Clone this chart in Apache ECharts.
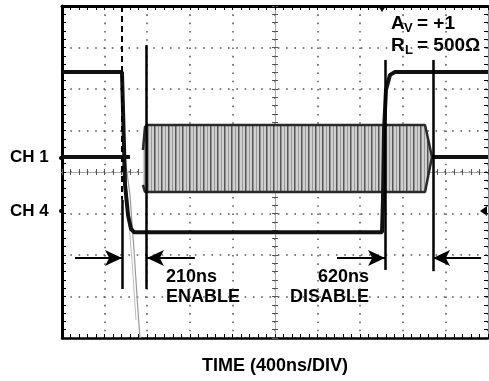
<!DOCTYPE html>
<html>
<head>
<meta charset="utf-8">
<script src="https://cdn.jsdelivr.net/npm/echarts@6/dist/echarts.min.js"></script>
<style>
  html, body { margin: 0; padding: 0; background: #fff; }
  #scope { width: 489px; height: 381px; }
</style>
</head>
<body>
<div id="scope"></div>
<script>
// time: ns from the centre of the screen, level: divisions
const enableTime = [-2000, -1437, -1427, -1408, -1380, -1352, -1324, 1005, 1014, 1024, 1042, 1080, 1127, 2000]
const enableLevel = [2.41, 2.41, 1.49, -0.31, -1.04, -1.37, -1.45, -1.45, -0.67, 1.01, 1.98, 2.34, 2.41, 2.41]

const outBeforeTime = [-2000, -1362]
const outBeforeLevel = [0.36, 0.36]
const outAfterTime = [1474, 2000]
const outAfterLevel = [0.36, 0.36]

const glitchTime = [-1408, -1362, -1324, -1287, -1268]
const glitchLevel = [0.34, -0.55, -1.88, -3.33, -4]
const glitch2Time = [-1437, -1390, -1343, -1305]
const glitch2Level = [0.29, -0.67, -2.12, -3.57]

const burstTime = [-1240, -1221, -1202, 1409, 1474]
const burstTop = [0.53, 1.08, 1.13, 1.13, 0.36]
const burstBottom = [-0.31, -0.48, -0.48, -0.48, 0.36]

const markerTime = [-1437, -1211, 1033, 1484]
const markerTop = [-0.67, 3.06, 2.70, 2.70]
const markerBottom = [-2.82, -2.82, -2.36, -2.39]
const cursorTop = 4

const arrowFrom = [-1878, -753, 582, 1935]
const arrowTo = [-1437, -1202, 1033, 1484]
const arrowLevel = -2.07

const font = "'Liberation Sans', Arial, sans-serif"

const pair = (xs, ys) => xs.map((x, i) => [x, ys[i]])

// vertical stripe texture for the oscillation burst
const stripe = document.createElement('canvas')
stripe.width = 7
stripe.height = 4
const sc = stripe.getContext('2d')
sc.fillStyle = '#cfcfcf'
sc.fillRect(0, 0, 7, 4)
sc.fillStyle = '#555'
sc.fillRect(0, 0, 1.5, 4)
sc.fillStyle = '#999'
sc.fillRect(4, 0, 1, 4)

const chart = echarts.init(document.getElementById('scope'))

const frameX = (pos, extra) => Object.assign({
  type: 'value', min: -2000, max: 2000, interval: 400, position: pos,
  axisLabel: { show: false },
  splitLine: { show: false },
  axisTick: { show: true, inside: true, length: 4, lineStyle: { color: '#000' } },
  minorTick: { show: true, splitNumber: 5, length: 4, lineStyle: { color: '#000' } }
}, extra)

const frameY = (pos, extra) => Object.assign({
  type: 'value', min: -4, max: 4, interval: 1, position: pos,
  axisLabel: { show: false },
  splitLine: { show: false },
  axisTick: { show: true, inside: true, length: 4, lineStyle: { color: '#000' } },
  minorTick: { show: true, splitNumber: 5, length: 4, lineStyle: { color: '#000' } }
}, extra)

const dots = { show: true, lineStyle: { color: '#555', type: [1.6, 6.7], width: 1.5 } }
const centreLine = { onZero: true, onZeroAxisIndex: 0, lineStyle: { color: '#aaa', width: 1 } }
const centreTickIn = { show: true, inside: true, length: 3, lineStyle: { color: '#555' } }
const centreTickOut = { show: true, inside: false, length: 3, lineStyle: { color: '#555' } }
const centreMinor = { show: true, splitNumber: 5, length: 3, lineStyle: { color: '#555' } }

const option = {
  animation: false,
  grid: { left: 62, right: 1, top: 6, bottom: 43, outerBoundsMode: 'none' },
  xAxis: [
    frameX('bottom', {
      axisLine: { onZero: false, lineStyle: { color: '#000', width: 2.5 } },
      splitLine: dots,
      name: 'TIME (400ns/DIV)',
      nameLocation: 'middle',
      nameGap: 19,
      nameTextStyle: { color: '#000', fontSize: 18, fontWeight: 'bold', fontFamily: font }
    }),
    frameX('top', { axisLine: { onZero: false, lineStyle: { color: '#000', width: 3 } } }),
    frameX('bottom', { axisLine: centreLine, axisTick: centreTickIn, minorTick: centreMinor }),
    frameX('bottom', { axisLine: centreLine, axisTick: centreTickOut, minorTick: centreMinor })
  ],
  yAxis: [
    frameY('left', {
      axisLine: { onZero: false, lineStyle: { color: '#000', width: 3 } },
      splitLine: dots
    }),
    frameY('right', { axisLine: { onZero: false, lineStyle: { color: '#888', width: 1 } } }),
    frameY('left', { axisLine: centreLine, axisTick: centreTickIn, minorTick: centreMinor }),
    frameY('left', { axisLine: centreLine, axisTick: centreTickOut, minorTick: centreMinor })
  ],
  graphic: [
    { type: 'text', x: 10, y: 157, style: { text: 'CH 1', font: 'bold 17px ' + font, fill: '#000', textVerticalAlign: 'middle' } },
    { type: 'text', x: 10, y: 211, style: { text: 'CH 4', font: 'bold 17px ' + font, fill: '#000', textVerticalAlign: 'middle' } },
    { type: 'circle', shape: { cx: 61, cy: 158, r: 2 }, style: { fill: '#000' } },
    { type: 'circle', shape: { cx: 61, cy: 211, r: 2 }, style: { fill: '#000' } },
    { type: 'polygon', shape: { points: [[487, 206], [487, 216], [480, 211]] }, style: { fill: '#000' } },
    { type: 'polygon', shape: { points: [[378, 6], [386, 6], [382, 12]] }, style: { fill: '#000' } },
    { type: 'text', x: 166, y: 277, style: { text: '210ns', font: 'bold 18px ' + font, fill: '#000', textVerticalAlign: 'middle' } },
    { type: 'text', x: 166, y: 297, style: { text: 'ENABLE', font: 'bold 18px ' + font, fill: '#000', textVerticalAlign: 'middle' } },
    { type: 'text', x: 369, y: 277, style: { text: '620ns', font: 'bold 18px ' + font, fill: '#000', textAlign: 'right', textVerticalAlign: 'middle' } },
    { type: 'text', x: 369, y: 297, style: { text: 'DISABLE', font: 'bold 18px ' + font, fill: '#000', textAlign: 'right', textVerticalAlign: 'middle' } },
    { type: 'text', x: 391, y: 24, style: { text: 'A', font: 'bold 19px ' + font, fill: '#000', textVerticalAlign: 'middle' } },
    { type: 'text', x: 404, y: 28, style: { text: 'V', font: 'bold 13px ' + font, fill: '#000', textVerticalAlign: 'middle' } },
    { type: 'text', x: 417, y: 24, style: { text: '= +1', font: 'bold 19px ' + font, fill: '#000', textVerticalAlign: 'middle' } },
    { type: 'text', x: 391, y: 46, style: { text: 'R', font: 'bold 19px ' + font, fill: '#000', textVerticalAlign: 'middle' } },
    { type: 'text', x: 405, y: 50, style: { text: 'L', font: 'bold 13px ' + font, fill: '#000', textVerticalAlign: 'middle' } },
    { type: 'text', x: 417, y: 46, style: { text: '= 500Ω', font: 'bold 19px ' + font, fill: '#000', textVerticalAlign: 'middle' } },
    { type: 'text', x: 396, y: 132, style: { text: '31 2', font: 'bold 10px ' + font, fill: '#444', textVerticalAlign: 'middle' } }
  ],
  series: [
    {
      type: 'custom',
      name: 'burst',
      data: [[burstTime[0], burstTop[0]]],
      renderItem: (params, api) => {
        const pts = burstTime.map((t, i) => api.coord([t, burstTop[i]]))
        for (let i = burstTime.length - 1; i >= 0; i--) {
          pts.push(api.coord([burstTime[i], burstBottom[i]]))
        }
        return {
          type: 'polygon',
          shape: { points: pts },
          style: { fill: { type: 'pattern', image: stripe, repeat: 'repeat' }, stroke: null }
        }
      }
    },
    {
      type: 'line', data: pair(burstTime, burstTop), symbol: 'none',
      lineStyle: { color: '#2a2a2a', width: 2.5 }
    },
    {
      type: 'line', data: pair(burstTime, burstBottom), symbol: 'none',
      lineStyle: { color: '#2a2a2a', width: 2.5 }
    },
    {
      type: 'line', data: pair(glitchTime, glitchLevel), symbol: 'none',
      lineStyle: { color: '#999', width: 1.2 }
    },
    {
      type: 'line', data: pair(glitch2Time, glitch2Level), symbol: 'none',
      lineStyle: { color: '#bbb', width: 1 }
    },
    {
      type: 'line', data: pair(outBeforeTime, outBeforeLevel), symbol: 'none',
      lineStyle: { color: '#111', width: 4 }
    },
    {
      type: 'line', data: pair(outAfterTime, outAfterLevel), symbol: 'none',
      lineStyle: { color: '#111', width: 4 }
    },
    {
      type: 'line', data: pair(enableTime, enableLevel), symbol: 'none',
      lineStyle: { color: '#111', width: 4 },
      markLine: {
        silent: true,
        symbol: ['none', 'none'],
        label: { show: false },
        lineStyle: { color: '#000', width: 2.5, type: 'solid' },
        data: [
          [
            { coord: [markerTime[0], cursorTop], lineStyle: { type: [6, 4], width: 2 } },
            { coord: [markerTime[0], markerTop[0]] }
          ],
          ...markerTime.map((t, i) => [
            { coord: [t, markerTop[i]] },
            { coord: [t, markerBottom[i]] }
          ]),
          ...arrowFrom.map((t, i) => [
            { coord: [t, arrowLevel], symbol: 'none', lineStyle: { width: 2 } },
            { coord: [arrowTo[i], arrowLevel], symbol: 'arrow', symbolSize: [12, 17] }
          ])
        ]
      }
    }
  ]
}

chart.setOption(option)
</script>
</body>
</html>
